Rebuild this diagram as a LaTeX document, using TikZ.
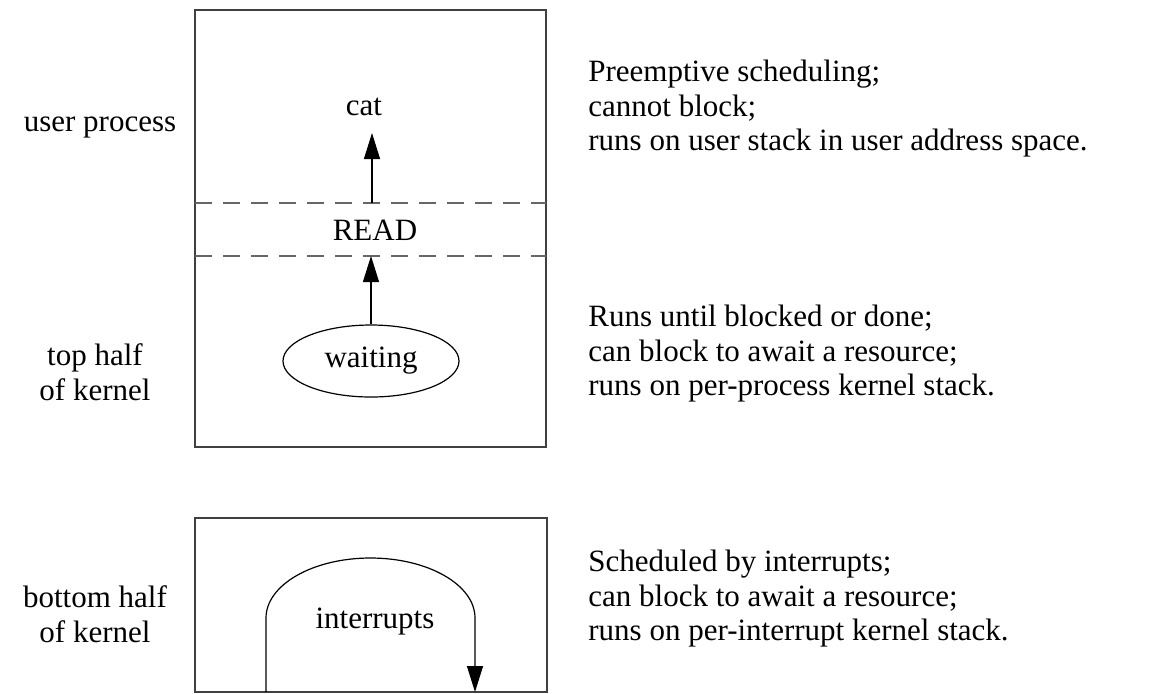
\documentclass[tikz,border=0pt]{standalone}
\usepackage{fontspec}
\setmainfont{Liberation Serif}
\usetikzlibrary{arrows.meta,shapes.geometric}
\begin{document}
\begin{tikzpicture}[x=0.5pt,y=-0.5pt,
  box/.style={draw=black!75, line width=0.9pt},
  sepline/.style={draw=black!60, line width=0.8pt, dash pattern=on 8.5pt off 5.5pt},
  arr/.style={draw, line width=0.6pt, -{Triangle[length=13pt,width=8pt]}},
  lbl/.style={font=\fontsize{15.5pt}{17.25pt}\selectfont, inner sep=0pt},
  desc/.style={lbl, align=left, anchor=west},
  side/.style={lbl, align=center}]
\useasboundingbox (0,0) rectangle (1156,693);

% boxes
\draw[box] (195,10) rectangle (546,447);
\draw[box] (195,518) rectangle (547,692);

% dashed separators
\draw[sepline] (195,203) -- (546,203);
\draw[sepline] (195,256) -- (546,256);

% inner labels
\node[lbl] (cat) at (364,107) {cat};
\node[lbl] (read) at (375,230) {READ};
\node[lbl, draw, ellipse, line width=0.6pt, minimum width=88pt, minimum height=36pt] (wait) at (371,361) {waiting};
\node[lbl] (intr) at (375,622) {interrupts};

% arrows
\coordinate (up1) at (372,203);
\coordinate (cattip) at (372,133);
\coordinate (up2) at (371,256);
\draw[arr] (up1) -- (cattip);
\draw[arr] (wait.north) -- (up2);

\coordinate (ia) at (266,692);
\coordinate (ib) at (475,692);
\draw[arr] (ia) -- (266,618) arc[start angle=180, end angle=0, x radius=52.25pt, y radius=30pt] -- (ib);

% side labels
\node[side] (up) at (100,127) {user process};
\node[side] (th) at (95,372) {top half\\of kernel};
\node[side] (bh) at (95,614) {bottom half\\of kernel};

% descriptions
\node[desc] (t1) at (588,109) {Preemptive scheduling;\\cannot block;\\runs on user stack in user address space.};
\node[desc] (t2) at (588,354) {Runs until blocked or done;\\can block to await a resource;\\runs on per-process kernel stack.};
\node[desc] (t3) at (588,599) {Scheduled by interrupts;\\can block to await a resource;\\runs on per-interrupt kernel stack.};
\end{tikzpicture}
\end{document}
